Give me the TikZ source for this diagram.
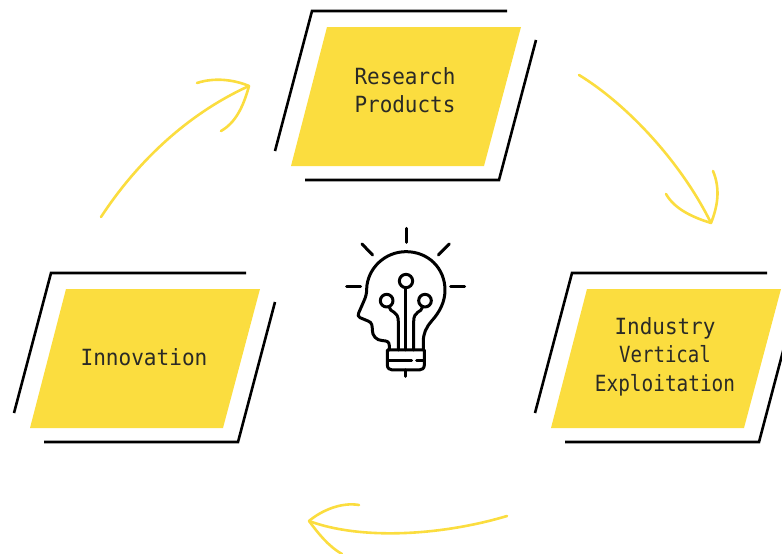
\documentclass[tikz,border=0pt]{standalone}
\usepackage{fontspec}
\setmainfont{DejaVu Sans Mono}
\newfontface\faceA[FakeStretch=0.94]{DejaVu Sans Mono}
\newfontface\faceB[FakeStretch=0.855]{DejaVu Sans Mono}
\newfontface\faceC[FakeStretch=0.87]{DejaVu Sans Mono}
\newfontface\faceD[FakeStretch=0.945]{DejaVu Sans Mono}
\definecolor{ylw}{HTML}{FBDD3F}
\definecolor{txt}{HTML}{2A2A26}
\tikzset{
 card/.style={fill=ylw,draw=none},
 frameline/.style={draw=black,line width=2.6pt,line join=miter},
 label/.style={text=txt,font=\fontsize{22.3}{28.5}\selectfont,align=center,inner sep=0pt},
 arc/.style={draw=ylw,line width=2.6pt,line cap=round,line join=round},
 bulb/.style={draw=black,line width=3pt,line cap=round,line join=round}
}
\newcommand{\panel}[2]{%
 \begin{scope}[shift={(#1,#2)}]
  \fill[card] (327,27) -- (521,27) -- (484,166) -- (291,166) -- cycle;
  \draw[frameline] (275,151) -- (312,11) -- (507,11);
  \draw[frameline] (305,180) -- (499,180) -- (536,40);
 \end{scope}}
\begin{document}
\begin{tikzpicture}[x=1pt,y=-1pt]
\useasboundingbox (0,0) rectangle (782,554);
\panel{0}{0}
\panel{-261}{262}
\panel{260}{262}
\node[label] (research) at (405,90) {\faceA Research\\\faceA Products};
\node[label] (innovation) at (144,357) {\faceD Innovation};
\node[label] (industry) at (665,356.5) {\faceA Industry\\\faceB Vertical\\\faceC Exploitation};
% arrows
\draw[arc] (101,217) .. controls (135,165) and (185,115) .. (249,86);
\draw[arc] (197,83) .. controls (215,77) and (235,80) .. (249,86) .. controls (243,108) and (235,123) .. (221,131);
\draw[arc] (579,75) .. controls (625,103) and (680,160) .. (711,223);
\draw[arc] (666,194) .. controls (675,210) and (695,218) .. (711,223) .. controls (717,208) and (721,190) .. (713,171);
\draw[arc] (507,516) .. controls (440,536) and (360,540) .. (309,521);
\draw[arc] (359,505) .. controls (342,502) and (322,510) .. (309,521) .. controls (318,533) and (328,546) .. (342,554);
% bulb
\begin{scope}[shift={(330,215)},x=0.3333pt,y=-0.3333pt]
 \draw[bulb] (230,40) -- (230,82);
 \draw[bulb] (96,87) -- (128,120);
 \draw[bulb] (358,87) -- (325,120);
 \draw[bulb] (50,216) -- (92,216);
 \draw[bulb] (362,216) -- (404,216);
 \draw[bulb] (178,405) -- (178,392) .. controls (178,380) and (170,377) .. (158,377) .. controls (138,376) and (127,362) .. (127,345) .. controls (127,332) and (126,322) .. (114,318) -- (90,308) .. controls (84,305) and (83,300) .. (86,294) -- (100,262) .. controls (108,245) and (110,235) .. (110,222) .. controls (112,160) and (165,110) .. (228,110) .. controls (295,110) and (345,160) .. (345,225) .. controls (345,260) and (330,290) .. (305,318) .. controls (288,338) and (280,355) .. (280,380) -- (280,405);
 \draw[bulb] (172,405) -- (283,405) -- (283,450) .. controls (283,460) and (276,465) .. (268,465) -- (187,465) .. controls (179,465) and (172,460) .. (172,450) -- cycle;
 \draw[bulb] (176,437) -- (245,437);
 \draw[bulb] (260,437) -- (281,437);
 \draw[bulb] (228,465) -- (228,484);
 \draw[bulb] (228,198) circle[radius=20];
 \draw[bulb] (228,218) -- (228,405);
 \draw[bulb] (170,257) circle[radius=19];
 \draw[bulb] (177,275) .. controls (180,295) and (205,285) .. (205,320) -- (205,405);
 \draw[bulb] (285,257) circle[radius=19];
 \draw[bulb] (278,275) .. controls (275,295) and (251,285) .. (251,320) -- (251,405);
\end{scope}
\end{tikzpicture}
\end{document}
